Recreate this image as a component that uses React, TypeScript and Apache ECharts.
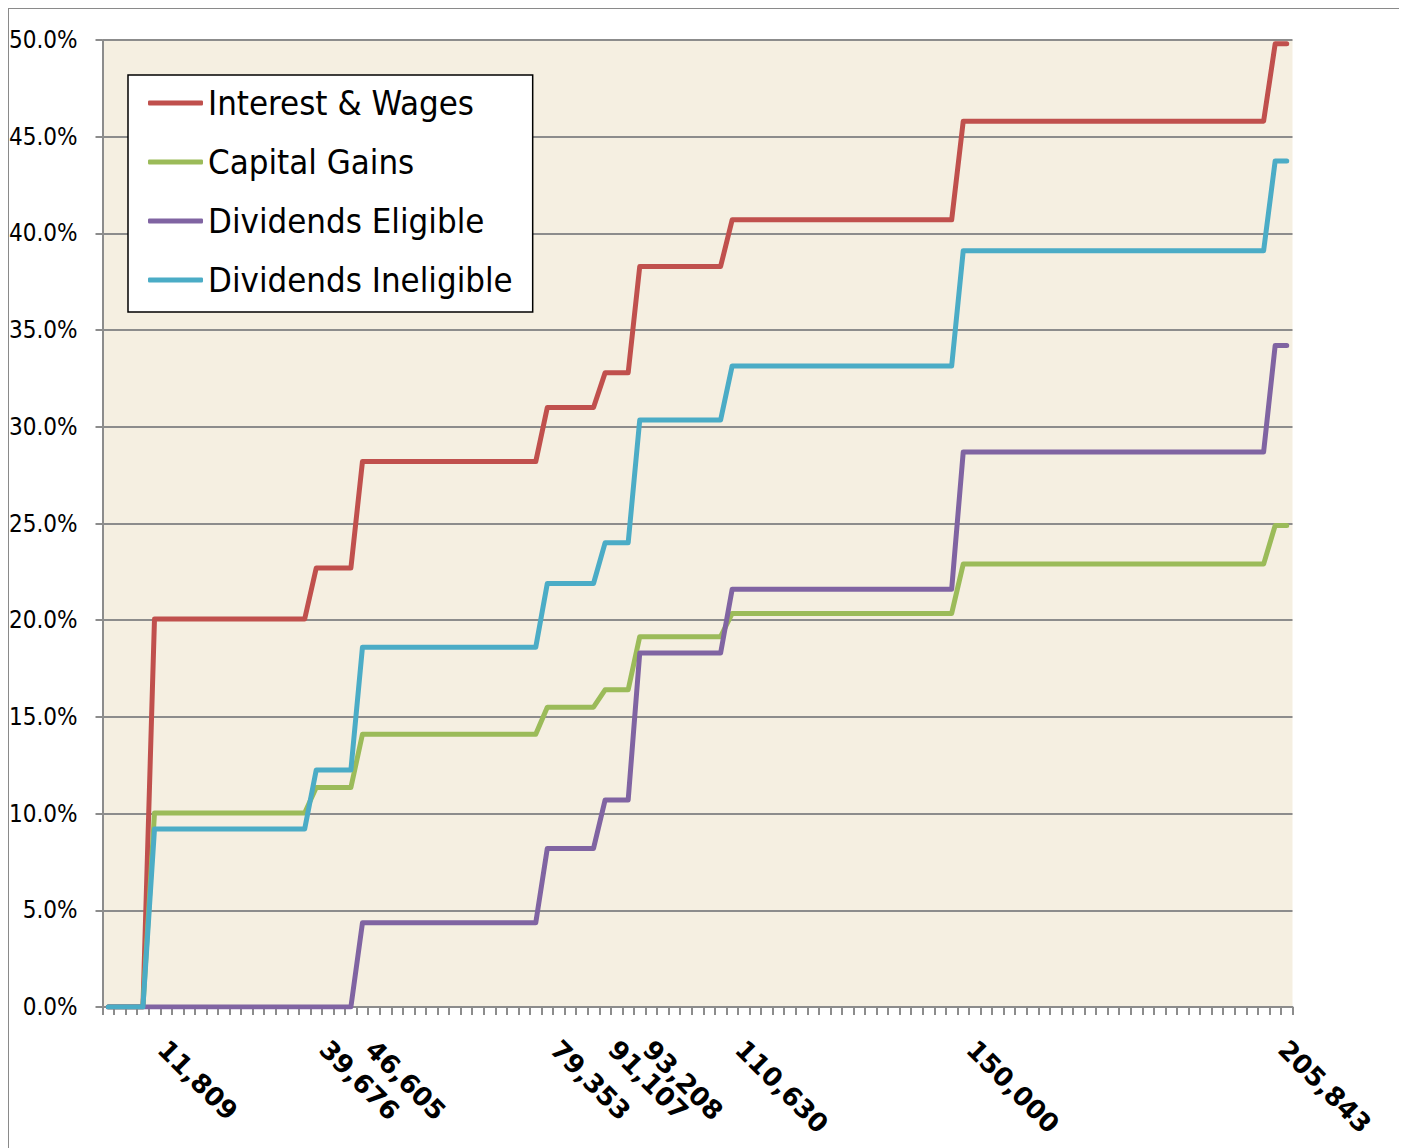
import React, { useEffect, useRef } from "react";
import * as echarts from "echarts";

// Income bracket thresholds shown on the x axis (category index where each bracket starts)
const thresholdLabels = ["11,809", "39,676", "46,605", "79,353", "91,107", "93,208", "110,630", "150,000", "205,843"];
const thresholdIndex = [4, 18, 22, 38, 43, 46, 54, 74, 101];
const categoryCount = 103;

// Marginal rates (%) for each bracket: [below first threshold, then one per threshold]
const interestWages = [0, 20.06, 22.7, 28.2, 31.0, 32.79, 38.29, 40.7, 45.8, 49.8];
const capitalGains = [0, 10.03, 11.35, 14.1, 15.5, 16.4, 19.15, 20.35, 22.9, 24.9];
const dividendsEligible = [0, 0, 0, 4.35, 8.2, 10.7, 18.3, 21.6, 28.7, 34.2];
const dividendsIneligible = [0, 9.2, 12.25, 18.6, 21.9, 24.0, 30.35, 33.15, 39.1, 43.75];

const seriesNames = ["Interest & Wages", "Capital Gains", "Dividends Eligible", "Dividends Ineligible"];
const seriesColors = ["#C0504D", "#9BBB59", "#8064A2", "#4BACC6"];

const NARROW = "'DejaVu Sans Condensed', 'Liberation Sans', sans-serif";

function bracketOf(i: number): number {
  let k = 0;
  for (let t = 0; t < thresholdIndex.length; t++) if (i >= thresholdIndex[t]) k = t + 1;
  return k;
}

const categories: string[] = Array.from({ length: categoryCount }, (_, i) => {
  const t = thresholdIndex.indexOf(i);
  return t >= 0 ? thresholdLabels[t] : "";
});

function expand(rates: number[]): number[] {
  return categories.map((_, i) => rates[bracketOf(i)]);
}

export default function App() {
  const ref = useRef<HTMLDivElement>(null);
  useEffect(() => {
    const chart = echarts.init(ref.current!, null, { renderer: "svg" });
    const rateSets = [interestWages, capitalGains, dividendsEligible, dividendsIneligible];
    chart.setOption({
      animation: false,
      grid: {
        left: 93.5,
        top: 31,
        width: 1190,
        height: 967,
        show: true,
        backgroundColor: "#F5EFE1",
        borderWidth: 0,
        containLabel: false,
        outerBoundsMode: "none",
      },
      legend: {
        data: seriesNames,
        orient: "vertical",
        left: 119,
        top: 66,
        padding: [3, 20, 7, 20],
        itemGap: 9,
        itemWidth: 55,
        itemHeight: 5,
        icon: "roundRect",
        backgroundColor: "#ffffff",
        borderColor: "#000000",
        borderWidth: 1.5,
        borderRadius: 0,
        textStyle: { fontSize: 34.5, lineHeight: 50, fontFamily: NARROW, color: "#000" },
      },
      xAxis: {
        type: "category",
        data: categories,
        boundaryGap: true,
        axisLine: { show: true, lineStyle: { color: "#8c8c8c", width: 2 } },
        axisTick: { show: true, interval: 0, length: 8, lineStyle: { color: "#8c8c8c", width: 2 } },
        axisLabel: {
          interval: 0,
          rotate: -45,
          margin: 30,
          padding: [0, 0, 0, 11],
          fontSize: 26,
          fontWeight: "bold",
          fontFamily: "'DejaVu Sans', sans-serif",
          color: "#000",
        },
        splitLine: { show: false },
      },
      yAxis: {
        type: "value",
        min: 0,
        max: 50,
        interval: 5,
        axisLine: { show: true, lineStyle: { color: "#8c8c8c", width: 2 } },
        axisTick: { show: true, length: 7, lineStyle: { color: "#8c8c8c", width: 2 } },
        axisLabel: {
          margin: 25,
          fontSize: 24,
          fontFamily: NARROW,
          color: "#000",
          formatter: (v: number) => v.toFixed(1) + "%",
        },
        splitLine: { show: true, lineStyle: { color: "#8c8c8c", width: 2 } },
      },
      series: seriesNames.map((name, s) => ({
        name,
        type: "line",
        data: expand(rateSets[s]),
        symbol: "none",
        color: seriesColors[s],
        lineStyle: { width: 5, color: seriesColors[s], cap: "round", join: "round" },
      })),
    });
    return () => chart.dispose();
  }, []);
  return (
    <div style={{ width: 1397, height: 1160, border: "1px solid #8a8a8a", boxSizing: "border-box" }}>
      <div ref={ref} style={{ width: 1395, height: 1158 }} />
    </div>
  );
}
